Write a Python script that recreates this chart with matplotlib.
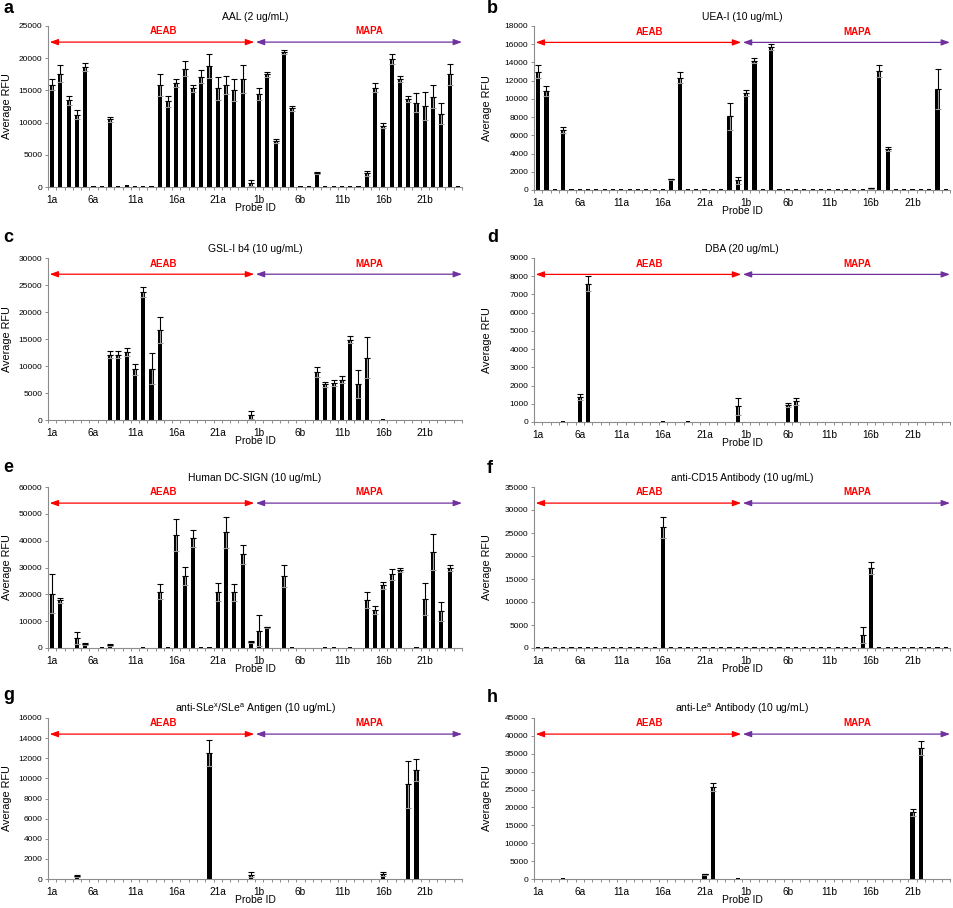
import numpy as np
import matplotlib
matplotlib.use("Agg")
import matplotlib.pyplot as plt

plt.rcParams['font.family'] = ['Liberation Sans', 'DejaVu Sans']
plt.rcParams['mathtext.fontset'] = 'custom'
plt.rcParams['mathtext.rm'] = 'Liberation Sans'

# ---------------- data ----------------
probes_a = ['1a', '2a', '3a', '4a', '5a', '6a', '7a', '8a', '9a', '10a', '11a', '12a', '13a',
            '14a', '15a', '16a', '17a', '18a', '19a', '20a', '21a', '22a', '23a', '24a', '25a']
probes_b = ['1b', '2b', '3b', '4b', '5b', '6b', '7b', '8b', '9b', '10b', '11b', '12b', '13b',
            '14b', '15b', '16b', '17b', '18b', '19b', '20b', '21b', '22b', '23b', '24b', '25b']
probes = probes_a + probes_b

titles = ['AAL (2 ug/mL)', 'UEA-I (10 ug/mL)', 'GSL-I b4 (10 ug/mL)', 'DBA (20 ug/mL)',
          'Human DC-SIGN (10 ug/mL)', 'anti-CD15 Antibody (10 ug/mL)',
          r'anti-SLe$^{\mathrm{x}}$/SLe$^{\mathrm{a}}$ Antigen (10 ug/mL)',
          r'anti-Le$^{\mathrm{a}}$ Antibody (10 ug/mL)']
letters = ['a', 'b', 'c', 'd', 'e', 'f', 'g', 'h']
ymax = [25000, 18000, 30000, 9000, 60000, 35000, 16000, 45000]
ystep = [5000, 2000, 5000, 1000, 10000, 5000, 2000, 5000]

# a: AAL
aal_a = [15900, 17600, 13500, 11200, 18600, 200, 150, 10500, 100, 300, 100, 200, 100,
         15800, 13300, 16100, 18400, 15300, 17100, 18800, 15300, 15900, 15100, 16800, 600]
aal_b = [14400, 17500, 7100, 21000, 12200, 100, 100, 2200, 100, 100, 100, 100, 100,
         2100, 15400, 9500, 19900, 16800, 13700, 13100, 12600, 14000, 11400, 17500, 100]
aal_err_a = [800, 1300, 700, 700, 650, 0, 0, 400, 0, 0, 0, 0, 0,
             1700, 850, 600, 1200, 600, 1000, 1900, 1800, 1400, 1700, 2200, 500]
aal_err_b = [900, 350, 300, 300, 400, 0, 0, 150, 0, 0, 0, 0, 0,
             400, 700, 400, 800, 450, 500, 1500, 2200, 1800, 1600, 1600, 0]

# b: UEA-I
uea_a = [13000, 10900, 100, 6600, 100, 100, 100, 100, 100, 100, 100, 100, 100,
         100, 100, 100, 1200, 12300, 100, 100, 100, 100, 100, 8100, 1050]
uea_b = [10650, 14200, 100, 15700, 100, 100, 100, 100, 100, 100, 100, 100, 100,
         100, 100, 180, 13100, 4500, 100, 100, 100, 100, 100, 11100, 100]
uea_err_a = [700, 550, 0, 350, 0, 0, 0, 0, 0, 0, 0, 0, 0,
             0, 0, 0, 50, 600, 0, 0, 0, 0, 0, 1500, 400]
uea_err_b = [300, 300, 0, 300, 0, 0, 0, 0, 0, 0, 0, 0, 0,
             0, 0, 50, 650, 250, 0, 0, 0, 0, 0, 2200, 0]

# c: GSL-I b4
gsl_a = [0, 0, 0, 0, 0, 0, 0, 12100, 12100, 12600, 9400, 23700, 9500,
         16600, 0, 0, 0, 0, 0, 0, 0, 0, 0, 60, 900]
gsl_b = [60, 60, 0, 0, 0, 0, 0, 8900, 6600, 6900, 7450, 14900, 6600,
         11500, 0, 120, 0, 0, 0, 0, 0, 0, 0, 60, 60]
gsl_err_a = [0, 0, 0, 0, 0, 0, 0, 650, 650, 750, 1000, 900, 2900,
             2400, 0, 0, 0, 0, 0, 0, 0, 0, 0, 0, 800]
gsl_err_b = [0, 0, 0, 0, 0, 0, 0, 900, 500, 600, 650, 600, 2600,
             3800, 0, 0, 0, 0, 0, 0, 0, 0, 0, 0, 0]

# d: DBA
dba_a = [0, 0, 0, 50, 0, 1370, 7600, 0, 0, 0, 0, 0, 0,
         0, 0, 50, 0, 0, 50, 0, 0, 0, 0, 0, 860]
dba_b = [0, 0, 0, 0, 0, 920, 1130, 0, 0, 0, 0, 0, 0,
         0, 0, 0, 0, 0, 0, 0, 0, 0, 0, 0, 0]
dba_err_a = [0, 0, 0, 0, 0, 180, 400, 0, 0, 0, 0, 0, 0,
             0, 0, 0, 0, 0, 0, 0, 0, 0, 0, 0, 470]
dba_err_b = [0, 0, 0, 0, 0, 120, 170, 0, 0, 0, 0, 0, 0,
             0, 0, 0, 0, 0, 0, 0, 0, 0, 0, 0, 0]

# e: Human DC-SIGN
dcs_a = [20300, 17800, 0, 3700, 1500, 0, 300, 1000, 0, 0, 0, 300, 0,
         21000, 300, 42100, 26800, 40900, 300, 300, 21000, 43100, 20700, 34900, 2200]
dcs_b = [6400, 7700, 0, 26900, 300, 0, 0, 0, 300, 300, 0, 300, 0,
         18000, 14100, 23400, 27400, 29100, 0, 300, 18200, 35700, 13700, 29700, 0]
dcs_err_a = [7300, 900, 0, 2300, 400, 0, 0, 400, 0, 0, 0, 0, 0,
             2700, 0, 5900, 3500, 3100, 0, 0, 3300, 5900, 3000, 3500, 300]
dcs_err_b = [5800, 200, 0, 4000, 0, 0, 0, 0, 0, 0, 0, 0, 0,
             3000, 1600, 1300, 2000, 900, 0, 0, 5900, 6800, 3500, 1100, 0]

# f: anti-CD15
cd15_a = [150, 150, 150, 150, 150, 150, 150, 150, 150, 150, 150, 150, 150,
          150, 150, 26200, 150, 150, 150, 150, 150, 150, 150, 150, 150]
cd15_b = [150, 150, 150, 150, 150, 150, 150, 150, 150, 150, 150, 150, 150,
          150, 2800, 17300, 150, 150, 150, 150, 150, 150, 150, 150, 150]
cd15_err_a = [0, 0, 0, 0, 0, 0, 0, 0, 0, 0, 0, 0, 0,
              0, 0, 2300, 0, 0, 0, 0, 0, 0, 0, 0, 0]
cd15_err_b = [0, 0, 0, 0, 0, 0, 0, 0, 0, 0, 0, 0, 0,
              0, 1800, 1300, 0, 0, 0, 0, 0, 0, 0, 0, 0]

# g: anti-SLex/SLea
sle_a = [0, 0, 0, 270, 0, 0, 0, 0, 0, 0, 0, 0, 0,
         0, 0, 0, 0, 0, 0, 12500, 0, 0, 0, 0, 430]
sle_b = [0, 0, 0, 0, 0, 0, 0, 0, 0, 0, 0, 0, 0,
         0, 0, 500, 0, 0, 9400, 10800, 0, 0, 0, 0, 0]
sle_err_a = [0, 0, 0, 100, 0, 0, 0, 0, 0, 0, 0, 0, 0,
             0, 0, 0, 0, 0, 0, 1300, 0, 0, 0, 0, 230]
sle_err_b = [0, 0, 0, 0, 0, 0, 0, 0, 0, 0, 0, 0, 0,
             0, 0, 170, 0, 0, 2300, 1100, 0, 0, 0, 0, 0]

# h: anti-Lea
lea_a = [0, 0, 0, 200, 0, 0, 0, 0, 0, 0, 0, 0, 0,
         0, 0, 0, 0, 0, 0, 0, 1300, 25700, 0, 0, 300]
lea_b = [0, 0, 0, 0, 0, 0, 0, 0, 0, 0, 0, 0, 0,
         0, 0, 0, 60, 0, 0, 0, 18600, 36600, 0, 0, 0]
lea_err_a = [0, 0, 0, 0, 0, 0, 0, 0, 0, 0, 0, 0, 0,
             0, 0, 0, 0, 0, 0, 0, 100, 1100, 0, 0, 0]
lea_err_b = [0, 0, 0, 0, 0, 0, 0, 0, 0, 0, 0, 0, 0,
             0, 0, 0, 0, 0, 0, 0, 1000, 2000, 0, 0, 0]

series = [(aal_a + aal_b, aal_err_a + aal_err_b),
          (uea_a + uea_b, uea_err_a + uea_err_b),
          (gsl_a + gsl_b, gsl_err_a + gsl_err_b),
          (dba_a + dba_b, dba_err_a + dba_err_b),
          (dcs_a + dcs_b, dcs_err_a + dcs_err_b),
          (cd15_a + cd15_b, cd15_err_a + cd15_err_b),
          (sle_a + sle_b, sle_err_a + sle_err_b),
          (lea_a + lea_b, lea_err_a + lea_err_b)]

# ---------------- layout (pixels) ----------------
W, H = 954, 908
boxes = [(48, 462, 26, 187), (534, 950, 26, 190),
         (48, 462, 258, 420), (534, 950, 258, 422),
         (48, 462, 487, 648), (534, 950, 487, 648),
         (48, 462, 718, 879), (534, 950, 718, 879)]
letter_pos = [(3, 13), (487, 13), (3, 242), (487, 242),
              (3, 472), (487, 473), (3, 700), (487, 702)]

AXC = '#8c8c8c'
fig = plt.figure(figsize=(W / 100, H / 100), dpi=100)

x = np.arange(len(probes))
for i in range(8):
    l, r, t, b = boxes[i]
    ax = fig.add_axes([l / W, 1 - b / H, (r - l) / W, (b - t) / H])
    vals = np.array(series[i][0], dtype=float)
    errs = np.array(series[i][1], dtype=float)
    ax.bar(x, vals, width=0.5, color='black', zorder=2)
    m = errs > 0
    zeros = np.zeros(m.sum())
    ax.errorbar(x[m], vals[m], yerr=[errs[m], zeros], fmt='none', ecolor='#9a9a9a',
                elinewidth=0.8, capsize=2.2, capthick=0.8, zorder=3)
    ax.errorbar(x[m], vals[m], yerr=[zeros, errs[m]], fmt='none', ecolor='black',
                elinewidth=0.8, capsize=2.2, capthick=0.8, zorder=3)

    ax.set_xlim(-0.5, len(probes) - 0.5)
    ax.set_ylim(0, ymax[i])
    ax.set_yticks(np.arange(0, ymax[i] + 1, ystep[i]))
    ax.set_yticklabels([str(int(v)) for v in np.arange(0, ymax[i] + 1, ystep[i])], fontsize=6)
    ax.set_xticks(x[::5])
    ax.set_xticklabels(probes[::5], fontsize=7.3)
    ax.set_xticks(np.arange(-0.5, len(probes), 1.0), minor=True)
    ax.tick_params(axis='x', which='major', length=0, pad=5.5)
    ax.tick_params(axis='x', which='minor', length=2.5, width=0.7, color=AXC, direction='out')
    ax.tick_params(axis='y', which='major', length=2.5, width=0.7, color=AXC, direction='out', pad=1.5)
    for s in ['top', 'right']:
        ax.spines[s].set_visible(False)
    for s in ['left', 'bottom']:
        ax.spines[s].set_color(AXC)
        ax.spines[s].set_linewidth(0.8)

    ax.set_ylabel('Average RFU', fontsize=7.8)
    ax.yaxis.set_label_coords(-0.086 if i % 2 == 0 else -0.1, 0.5)
    ax.set_xlabel('Probe ID', fontsize=7.5)
    ax.xaxis.set_label_coords(0.5, -0.1)
    ax.set_title(titles[i], fontsize=7.5, pad=4.5)

    ya = 0.9
    ax.annotate('', xy=(24.4, ya), xytext=(-0.3, ya), xycoords=('data', 'axes fraction'),
                textcoords=('data', 'axes fraction'),
                arrowprops=dict(arrowstyle='<|-|>,head_length=0.5,head_width=0.18',
                                color='#ff0000', lw=0.9, shrinkA=0, shrinkB=0,
                                mutation_scale=10), annotation_clip=False)
    ax.annotate('', xy=(49.5, ya), xytext=(24.6, ya), xycoords=('data', 'axes fraction'),
                textcoords=('data', 'axes fraction'),
                arrowprops=dict(arrowstyle='<|-|>,head_length=0.5,head_width=0.18',
                                color='#7030a0', lw=0.9, shrinkA=0, shrinkB=0,
                                mutation_scale=10), annotation_clip=False)
    ax.text(13.4, ya + 0.035, 'AEAB', color='#ff0000', fontsize=7, fontweight='bold',
            ha='center', va='bottom', transform=ax.get_xaxis_transform())
    ax.text(38.3, ya + 0.035, 'MAPA', color='#ff0000', fontsize=7, fontweight='bold',
            ha='center', va='bottom', transform=ax.get_xaxis_transform())

    lx, ly = letter_pos[i]
    fig.text(lx / W, 1 - ly / H, letters[i], fontsize=13, fontweight='bold',
             ha='left', va='baseline')

fig.savefig('out.png', dpi=100)
